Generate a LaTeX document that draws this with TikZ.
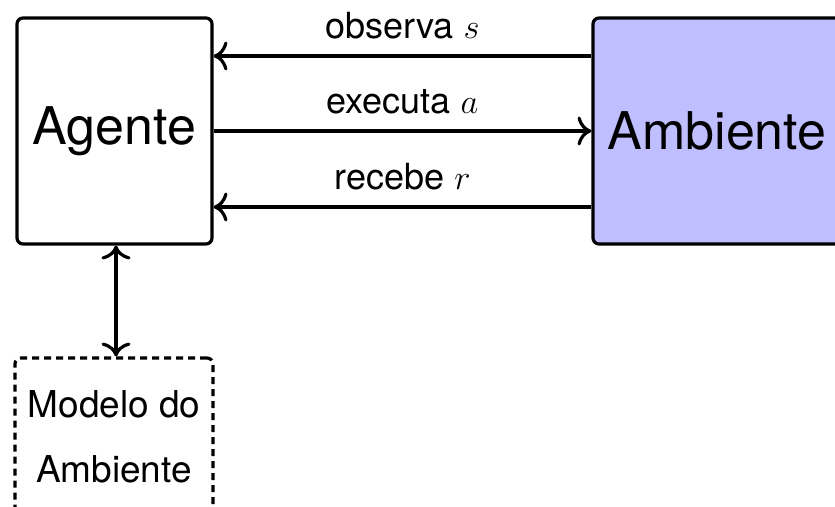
\documentclass[tikz,border=0pt]{standalone}
\usepackage{fontspec}
\setmainfont{TeX Gyre Heros}
\usetikzlibrary{arrows.meta}
\begin{document}
\begin{tikzpicture}[x=0.5pt,y=-0.5pt,
  >={To[scale=1.35]},
  box/.style={draw, line width=1.6pt, rounded corners=3pt, align=center, inner sep=0pt},
  flow/.style={line width=1.6pt, ->},
  lbl/.style={font=\fontsize{18}{21}\selectfont, inner sep=0pt}]
  \useasboundingbox (0,0) rectangle (835,507);
  % agent and environment
  \node[box, minimum width=97.5pt, minimum height=113pt,
        font=\fontsize{26}{30}\selectfont] (ag) at (114.5,131) {Agente};
  \node[box, fill=blue!25, minimum width=124pt, minimum height=113pt,
        font=\fontsize{26}{30}\selectfont] (amb) at (717,131) {Ambiente};
  % environment model
  \node[box, dash pattern=on 3.5pt off 2.5pt, minimum width=99pt, minimum height=79pt,
        font=\fontsize{18.5}{32.5}\selectfont] (mod) at (114,437) {Modelo do\\Ambiente};
  % interaction arrows
  \draw[flow] ([yshift=37.5pt]amb.west) -- coordinate[midway] (m1) ([yshift=37.5pt]ag.east);
  \draw[flow] (ag.east) -- coordinate[midway] (m2) (amb.west);
  \draw[flow] ([yshift=-38pt]amb.west) -- coordinate[midway] (m3) ([yshift=-38pt]ag.east);
  \node[lbl, above=8.5pt] at (m1) {observa $s$};
  \node[lbl, above=8.5pt] at (m2) {executa $a$};
  \node[lbl, above=8.5pt] at (m3) {recebe $r$};
  % agent <-> model
  \draw[line width=1.6pt, <->] ([xshift=0.75pt]ag.south) -- ([xshift=1pt]mod.north);
\end{tikzpicture}
\end{document}
